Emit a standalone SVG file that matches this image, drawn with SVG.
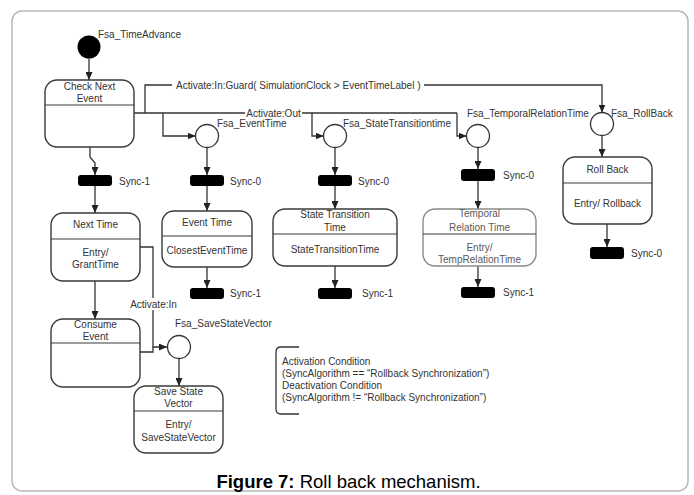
<svg xmlns="http://www.w3.org/2000/svg" width="694" height="495" viewBox="0 0 694 495">
<defs>
<marker id="arr" markerUnits="userSpaceOnUse" markerWidth="8" markerHeight="7" refX="8" refY="3.5" orient="auto">
<path d="M0,0 L8,3.5 L0,7 z" fill="#222"/>
</marker>
<style>
text{font-family:"Liberation Sans",Arial,sans-serif;font-size:10px;fill:#333}
.c{text-anchor:middle}
.box{fill:#fff;stroke:#3a3a3a;stroke-width:1.4}
.lite{stroke:#8a8a8a}
.litet{fill:#5a5a5a}
.div{stroke:#3a3a3a;stroke-width:1.2}
.bar{fill:#000}
.st{fill:#fff;stroke:#333;stroke-width:1.3}
.ln{fill:none;stroke:#333;stroke-width:1.3}
.ar{fill:none;stroke:#333;stroke-width:1.3;marker-end:url(#arr)}
.bg{fill:#fff}
</style>
</defs>
<rect x="12" y="11" width="676" height="480" rx="10" fill="#fff" stroke="#b8b8b8" stroke-width="1.5"/>

<g id="connectors">
<path class="ar" d="M89,58.5 V80"/>
<path class="ln" d="M134,113 H457"/>
<path class="ar" d="M145,113 V85 H602 V112.5"/>
<path class="ar" d="M163,113 V136 H195.5"/>
<path class="ar" d="M312,113 V136 H323.5"/>
<path class="ar" d="M457,113 V136 H466.5"/>
<rect class="bg" x="172" y="79" width="252" height="13"/>
<text x="176" y="88.5">Activate:In:Guard( SimulationClock &gt; EventTimeLabel )</text>
<rect class="bg" x="245" y="107" width="57" height="12"/>
<text class="c" x="273.5" y="116.5">Activate:Out</text>
<path class="ar" d="M90,147 V157 L95,163 V175"/>
<path class="ar" d="M95,186 V213"/>
<path class="ar" d="M95,281 V319"/>
<path class="ar" d="M140,247 H153 V347 H167"/>
<path class="ln" d="M140,352 H153 V347"/>
<rect class="bg" x="128" y="298" width="51" height="12"/>
<text class="c" x="153.5" y="307.5">Activate:In</text>
<path class="ar" d="M179,359 V386"/>
<path class="ar" d="M207,147.5 V175"/>
<path class="ar" d="M207,186 V211"/>
<path class="ar" d="M207,267 V288"/>
<path class="ar" d="M335,147.5 V175"/>
<path class="ar" d="M335,186 V209"/>
<path class="ar" d="M335,266 V288"/>
<path class="ar" d="M478,147.5 V169"/>
<path class="ar" d="M478,181 V209"/>
<path class="ar" d="M478,266 V287"/>
<path class="ar" d="M602,135.5 V157"/>
<path class="ar" d="M607,224 V247"/>
</g>

<g id="start">
<circle cx="89" cy="47" r="11.5" fill="#000"/>
<text x="98" y="37.5">Fsa_TimeAdvance</text>
</g>

<g id="checkNextEvent">
<rect class="box" x="45" y="80" width="89" height="67" rx="12"/>
<line class="div" x1="45" y1="105" x2="134" y2="105"/>
<text class="c" x="89.5" y="89.5">Check Next</text>
<text class="c" x="89.5" y="101.5">Event</text>
</g>

<g id="sync1a">
<rect class="bar" x="78" y="175" width="34" height="11" rx="3"/>
<text x="119" y="184.5">Sync-1</text>
</g>

<g id="nextTime">
<rect class="box" x="51" y="213" width="89" height="68" rx="12"/>
<line class="div" x1="51" y1="239" x2="140" y2="239"/>
<text class="c" x="95.5" y="227.5">Next Time</text>
<text class="c" x="95.5" y="255.5">Entry/</text>
<text class="c" x="95.5" y="267.5">GrantTime</text>
</g>

<g id="consumeEvent">
<rect class="box" x="51" y="319" width="89" height="68" rx="12"/>
<line class="div" x1="51" y1="343" x2="140" y2="343"/>
<text class="c" x="95.5" y="327.5">Consume</text>
<text class="c" x="95.5" y="339.5">Event</text>
</g>

<g id="fsaSaveStateVector">
<circle class="st" cx="179" cy="347" r="11.5"/>
<text x="175" y="326.5">Fsa_SaveStateVector</text>
</g>

<g id="saveStateVector">
<rect class="box" x="134" y="386" width="89" height="67" rx="12"/>
<line class="div" x1="134" y1="411" x2="223" y2="411"/>
<text class="c" x="178.5" y="394.5">Save State</text>
<text class="c" x="178.5" y="406.5">Vector</text>
<text class="c" x="178.5" y="427.5">Entry/</text>
<text class="c" x="178.5" y="440.5">SaveStateVector</text>
</g>

<g id="fsaEventTime">
<circle class="st" cx="207" cy="136" r="11.5"/>
<text x="217" y="126.5">Fsa_EventTime</text>
</g>
<g id="sync0a">
<rect class="bar" x="190" y="175" width="34" height="11" rx="3"/>
<text x="230" y="184.5">Sync-0</text>
</g>
<g id="eventTime">
<rect class="box" x="162" y="211" width="90" height="56" rx="12"/>
<line class="div" x1="162" y1="236" x2="252" y2="236"/>
<text class="c" x="207" y="225.5">Event Time</text>
<text class="c" x="207" y="253.5">ClosestEventTime</text>
</g>
<g id="sync1b">
<rect class="bar" x="190" y="288" width="34" height="11" rx="3"/>
<text x="230" y="297">Sync-1</text>
</g>

<g id="fsaStateTransitiontime">
<circle class="st" cx="335" cy="136" r="11.5"/>
<text x="343" y="126.5">Fsa_StateTransitiontime</text>
</g>
<g id="sync0b">
<rect class="bar" x="318" y="175" width="34" height="11" rx="3"/>
<text x="358" y="184.5">Sync-0</text>
</g>
<g id="stateTransitionTime">
<rect class="box" x="273" y="209" width="124" height="57" rx="12"/>
<line class="div" x1="273" y1="234" x2="397" y2="234"/>
<text class="c" x="335" y="217.5">State Transition</text>
<text class="c" x="335" y="230.5">Time</text>
<text class="c" x="335" y="252.5">StateTransitionTime</text>
</g>
<g id="sync1c">
<rect class="bar" x="318" y="288" width="34" height="11" rx="3"/>
<text x="362" y="297">Sync-1</text>
</g>

<g id="fsaTemporalRelationTime">
<circle class="st" cx="478" cy="136" r="11.5"/>
<text x="467" y="116.5">Fsa_TemporalRelationTime</text>
</g>
<g id="sync0c">
<rect class="bar" x="461" y="169" width="34" height="12" rx="3"/>
<text x="503" y="178.5">Sync-0</text>
</g>
<g id="temporalRelationTime">
<rect class="box lite" x="423" y="209" width="113" height="57" rx="12"/>
<line class="div lite" x1="423" y1="234" x2="536" y2="234"/>
<text class="c litet" x="479.5" y="216.5">Temporal</text>
<text class="c litet" x="479.5" y="230.5">Relation Time</text>
<text class="c litet" x="479.5" y="250.5">Entry/</text>
<text class="c litet" x="479.5" y="262.5">TempRelationTime</text>
</g>
<g id="sync1d">
<rect class="bar" x="461" y="287" width="34" height="11" rx="3"/>
<text x="503" y="296">Sync-1</text>
</g>

<g id="fsaRollBack">
<circle class="st" cx="602" cy="124" r="11.5"/>
<text x="611" y="116.5">Fsa_RollBack</text>
</g>
<g id="rollBack">
<rect class="box" x="563" y="157" width="89" height="67" rx="12"/>
<line class="div" x1="563" y1="183" x2="652" y2="183"/>
<text class="c" x="607.5" y="172.5">Roll Back</text>
<text class="c" x="607.5" y="206.5">Entry/ Rollback</text>
</g>
<g id="sync0d">
<rect class="bar" x="590" y="247" width="34" height="12" rx="3"/>
<text x="631" y="256.5">Sync-0</text>
</g>

<g id="note">
<path class="ln" d="M299,347 H281 Q276,347 276,352 V409 Q276,414 281,414 H299" stroke-width="1.5"/>
<text x="282" y="364.5">Activation Condition</text>
<text x="282" y="376.5">(SyncAlgorithm == “Rollback Synchronization”)</text>
<text x="282" y="388.5">Deactivation Condition</text>
<text x="282" y="400.5">(SyncAlgorithm != “Rollback Synchronization”)</text>
</g>

<text x="348.5" y="488" text-anchor="middle" style="font-size:18.5px;fill:#000"><tspan font-weight="bold">Figure 7:</tspan> Roll back mechanism.</text>
</svg>
